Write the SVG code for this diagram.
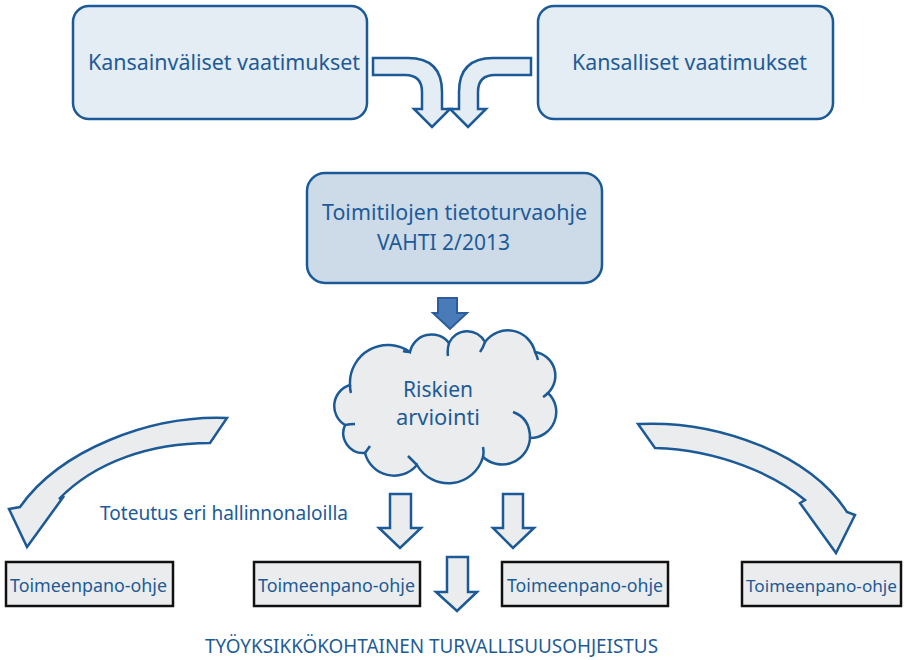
<svg xmlns="http://www.w3.org/2000/svg" width="904" height="660" viewBox="0 0 904 660">
<style>
.t{font-family:"Noto Sans","Open Sans",sans-serif;fill:#1d5b98;}
.bl{stroke:#1b5a96;stroke-width:2.5;stroke-linejoin:miter;}
.lt{fill:#e4ecf4;}
.gr{fill:#ebeced;}
.bx{fill:#ebeced;stroke:#111;stroke-width:2.5;}
</style>
<rect width="904" height="660" fill="#fff"/>
<g id="kansainvaliset">
<rect x="73" y="6" width="294" height="113" rx="16" class="lt bl"/>
<text x="88" y="70" font-size="22" class="t" textLength="272" lengthAdjust="spacingAndGlyphs">Kansainväliset vaatimukset</text>
</g>
<g id="kansalliset">
<rect x="538" y="6" width="295" height="113" rx="16" class="lt bl"/>
<text x="572" y="70" font-size="22" class="t" textLength="235" lengthAdjust="spacingAndGlyphs">Kansalliset vaatimukset</text>
</g>
<g id="vahti">
<rect x="307" y="173" width="295" height="110" rx="18" fill="#cddbe9" class="bl"/>
<text x="322" y="220" font-size="22" class="t" textLength="265" lengthAdjust="spacingAndGlyphs">Toimitilojen tietoturvaohje</text>
<text x="377" y="250" font-size="22" class="t" textLength="133" lengthAdjust="spacingAndGlyphs">VAHTI 2/2013</text>
</g>
<g id="riskit">
<path class="gr bl" d="M410,352 A22,22 0 0 1 449,343 A20,20 0 0 1 485,342 A28,28 0 0 1 535,352 A24,24 0 0 1 548,393 A26,26 0 0 1 530,438 A28,28 0 0 1 483,457 A36,36 0 0 1 417,465 A30,30 0 0 1 365,453 A20,20 0 0 1 345,425 A22,22 0 0 1 350,385 A38,38 0 0 1 410,352 Z"/>
<path fill="none" class="bl" d="M449,343 Q447,350 448,356 M485,342 Q483,348 480,352 M535,352 Q537,356 538,360 M548,393 Q545,396 543,397 M513,412 Q530,418 530,438 M483,457 Q484,452 483,447 M417,465 Q412,460 408,456 M365,453 Q368,449 370,446 M345,425 Q350,424 355,424 M350,385 Q350,390 351,393 M410,352 Q406,352 403,351"/>
<text x="403" y="397" font-size="22" class="t" textLength="70" lengthAdjust="spacingAndGlyphs">Riskien</text>
<text x="396" y="425" font-size="22" class="t" textLength="84" lengthAdjust="spacingAndGlyphs">arviointi</text>
</g>
<g id="toimeenpano1">
<rect x="6" y="562" width="167" height="44" class="bx"/>
<text x="10" y="592" font-size="18" class="t" textLength="157" lengthAdjust="spacingAndGlyphs">Toimeenpano-ohje</text>
</g>
<g id="toimeenpano2">
<rect x="254" y="562" width="166" height="44" class="bx"/>
<text x="258" y="592" font-size="18" class="t" textLength="157" lengthAdjust="spacingAndGlyphs">Toimeenpano-ohje</text>
</g>
<g id="toimeenpano3">
<rect x="502" y="562" width="166" height="44" class="bx"/>
<text x="507" y="592" font-size="18" class="t" textLength="156" lengthAdjust="spacingAndGlyphs">Toimeenpano-ohje</text>
</g>
<g id="toimeenpano4">
<rect x="742" y="562" width="159" height="44" class="bx"/>
<text x="746" y="592" font-size="17" class="t" textLength="151" lengthAdjust="spacingAndGlyphs">Toimeenpano-ohje</text>
</g>
<g id="labels">
<text x="100" y="520" font-size="19" class="t" textLength="248" lengthAdjust="spacingAndGlyphs">Toteutus eri hallinnonaloilla</text>
<text x="205" y="653" font-size="20" class="t" textLength="453" lengthAdjust="spacingAndGlyphs">TYÖYKSIKKÖKOHTAINEN TURVALLISUUSOHJEISTUS</text>
</g>
<g id="connectors">
<path class="lt bl" d="M373,58 L408,58 Q442,58 442,92 L442,109 L450,109 L432,127 L414,109 L422,109 L422,92 Q422,75 405,75 L373,75 Z"/>
<path class="lt bl" d="M531,58 L493,58 Q459,58 459,92 L459,109 L450,109 L468,127 L486,109 L478,109 L478,92 Q478,75 495,75 L531,75 Z"/>
<path fill="#4a7bb9" stroke="#2b5d9c" stroke-width="2" d="M438,298 L457,298 L457,313 L467,313 L450,329 L433,313 L438,313 Z"/>
<path class="gr bl" d="M390,494 L411,494 L411,528 L421,528 L400,548 L379,528 L390,528 Z"/>
<path class="gr bl" d="M503,494 L523,494 L523,528 L534,528 L513,548 L493,528 L503,528 Z"/>
<path class="gr bl" d="M447,557 L468,557 L468,592 L477,592 L457,611 L436,592 L447,592 Z"/>
<path class="gr bl" d="M227,418 C150,415 60,450 20,507 L9,509 L27,547 L64,496 L59,499 C95,462 150,443 210,443 Z"/>
<path class="gr bl" d="M638,424 C720,420 810,455 847,512 L855,515 L836,553 L800,503 L805,500 C775,475 720,450 655,448 Z"/>
</g>
</svg>
